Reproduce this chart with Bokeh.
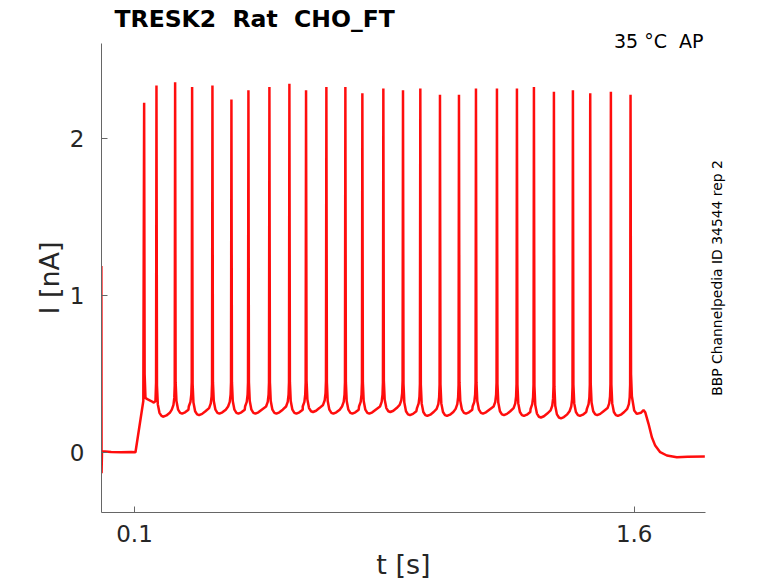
import math
from bokeh.plotting import figure
from bokeh.models import Range1d, FixedTicker, Label, ColumnDataSource, LinearAxis
from bokeh.embed import file_html
from bokeh.resources import INLINE

# ---- data ----
title_text = "TRESK2 \u00a0Rat \u00a0CHO_FT"
temp_text = "35 °C \u00a0AP"
side_text = "BBP Channelpedia ID 34544 rep 2"
x_label = "t [s]"
y_label = "I [nA]"
x_ticks = [0.1, 1.6]
y_ticks = [0, 1, 2]
x_limits = (0.001, 1.814)
y_limits = (-0.38, 2.607)

# initial transient + baseline + ramp (t [s], I [nA])
start_t = [0.0, 0.0006, 0.0012, 0.0025, 0.03, 0.06, 0.09, 0.103, 0.1265]
start_I = [0.02, 1.19, -0.13, 0.01, 0.005, 0.003, 0.006, 0.004, 0.33]

# spike times and peak currents
spike_t = [0.129, 0.166, 0.222, 0.273, 0.334, 0.391, 0.442, 0.505, 0.565,
           0.615, 0.676, 0.733, 0.784, 0.847, 0.906, 0.958, 1.017, 1.074,
           1.125, 1.188, 1.248, 1.299, 1.359, 1.416, 1.468, 1.530, 1.589]
spike_peak = [2.23, 2.34, 2.36, 2.33, 2.34, 2.25, 2.31, 2.33, 2.35,
              2.31, 2.33, 2.33, 2.29, 2.32, 2.31, 2.32, 2.28, 2.28,
              2.32, 2.32, 2.32, 2.33, 2.30, 2.31, 2.29, 2.30, 2.28]
# trough current between consecutive spikes (after spike k, k = 2..26)
trough_I = [0.23, 0.25, 0.24, 0.25, 0.25, 0.25, 0.25, 0.25, 0.26,
            0.25, 0.25, 0.25, 0.26, 0.24, 0.235, 0.235, 0.25, 0.25,
            0.24, 0.235, 0.225, 0.22, 0.235, 0.24, 0.235]

# plateau between first and second spike
plateau_t = [0.1305, 0.133, 0.140, 0.150, 0.158, 0.163, 0.1648]
plateau_I = [0.50, 0.35, 0.34, 0.33, 0.32, 0.33, 0.45]

# after last spike: trough, bump, decay to holding current
end_t = [1.5905, 1.593, 1.600, 1.608, 1.620, 1.628, 1.633, 1.643, 1.653,
         1.663, 1.678, 1.698, 1.728, 1.760, 1.812]
end_I = [0.50, 0.36, 0.27, 0.248, 0.255, 0.272, 0.259, 0.185, 0.099,
         0.046, 0.004, -0.017, -0.028, -0.025, -0.024]

# ---- build the trace ----
tt, ii = [], []
tt += start_t
ii += start_I

# inter-spike waveform shape (time offsets, current above trough)
after_dt = [0.0015, 0.004, 0.009, 0.015, 0.021, 0.030, 0.040]
after_dI = [0.20, 0.08, 0.025, 0.005, 0.0, 0.008, 0.025]
before_dt = [0.010, 0.005, 0.0025, 0.0012]
before_dI = [0.045, 0.075, 0.12, 0.20]

n = len(spike_t)
for k in range(n):
    ts, pk = spike_t[k], spike_peak[k]
    tt.append(ts)
    ii.append(pk)
    if k == 0:
        tt += plateau_t
        ii += plateau_I
    elif k == n - 1:
        tt += end_t
        ii += end_I
    else:
        tn = spike_t[k + 1]
        tr = trough_I[k - 1]
        for d, v in zip(after_dt, after_dI):
            tt.append(ts + d)
            ii.append(tr + v)
        for d, v in zip(before_dt, before_dI):
            tt.append(tn - d)
            ii.append(tr + v)

src = ColumnDataSource(data=dict(t=tt, I=ii))

# ---- layout (frame extends to top/right edge; axis lines limited by bounds) ----
W, H = 778, 583
left, bottom = 101, 71
frame_w, frame_h = W - left, H - bottom
px_per_x = 604 / (x_limits[1] - x_limits[0])
px_per_y = 469 / (y_limits[1] - y_limits[0])
x_end = x_limits[0] + frame_w / px_per_x
y_end = y_limits[0] + frame_h / px_per_y
x_mid = round((x_limits[0] + x_limits[1]) / 2, 4)
y_mid = round((y_limits[0] + y_limits[1]) / 2, 4)

p = figure(width=W, height=H, output_backend="svg", toolbar_location=None,
           x_range=Range1d(x_limits[0], x_end),
           y_range=Range1d(y_limits[0], y_end),
           min_border_left=left, min_border_right=0, min_border_top=0,
           min_border_bottom=bottom)
p.title.visible = False
p.outline_line_color = None
p.xgrid.visible = False
p.ygrid.visible = False
p.background_fill_color = "white"
p.border_fill_color = "white"

p.line(x="t", y="I", source=src, line_color="#ff0000", line_width=2.5,
       line_alpha=0.95)

font = "DejaVu Sans"
for ax in (p.xaxis[0], p.yaxis[0]):
    ax.axis_line_color = "#666666"
    ax.axis_line_width = 1
    ax.major_tick_line_color = "#666666"
    ax.major_tick_in = 6
    ax.major_tick_out = 0
    ax.minor_tick_line_color = None
    ax.major_label_text_font = font
    ax.major_label_text_font_size = "23px"
    ax.major_label_text_color = "#262626"

p.xaxis.ticker = FixedTicker(ticks=x_ticks)
p.yaxis.ticker = FixedTicker(ticks=y_ticks)
p.xaxis.bounds = x_limits
p.yaxis.bounds = y_limits
p.xaxis.major_label_standoff = 12
p.yaxis.major_label_standoff = 17

# axis titles, centred on the visible axis spans
x_title_axis = LinearAxis(ticker=FixedTicker(ticks=[x_mid]),
                          major_label_overrides={x_mid: x_label},
                          axis_line_color=None, major_tick_line_color=None,
                          minor_tick_line_color=None,
                          major_label_standoff=-2,
                          major_label_text_font=font,
                          major_label_text_font_size="27px",
                          major_label_text_color="#262626")
p.add_layout(x_title_axis, "below")
y_title_axis = LinearAxis(ticker=FixedTicker(ticks=[y_mid]),
                          major_label_overrides={y_mid: y_label},
                          major_label_orientation="vertical",
                          axis_line_color=None, major_tick_line_color=None,
                          minor_tick_line_color=None,
                          major_label_standoff=-4,
                          major_label_text_font=font,
                          major_label_text_font_size="27px",
                          major_label_text_color="#262626")
p.add_layout(y_title_axis, "left")

p.add_layout(Label(x=13, y=493.5, x_units="screen", y_units="screen",
                   text=title_text, text_font=font, text_font_size="23.5px",
                   text_font_style="bold", text_color="black",
                   text_align="left", text_baseline="alphabetic"))
p.add_layout(Label(x=602, y=471.7, x_units="screen", y_units="screen",
                   text=temp_text, text_font=font, text_font_size="19px",
                   text_color="black", text_align="right",
                   text_baseline="alphabetic"))
p.add_layout(Label(x=615.5, y=234.5, x_units="screen", y_units="screen",
                   text=side_text, text_font=font, text_font_size="13.9px",
                   text_color="black", text_align="center",
                   text_baseline="middle", angle=math.pi / 2))

open("out.html", "w").write(file_html(p, INLINE))
